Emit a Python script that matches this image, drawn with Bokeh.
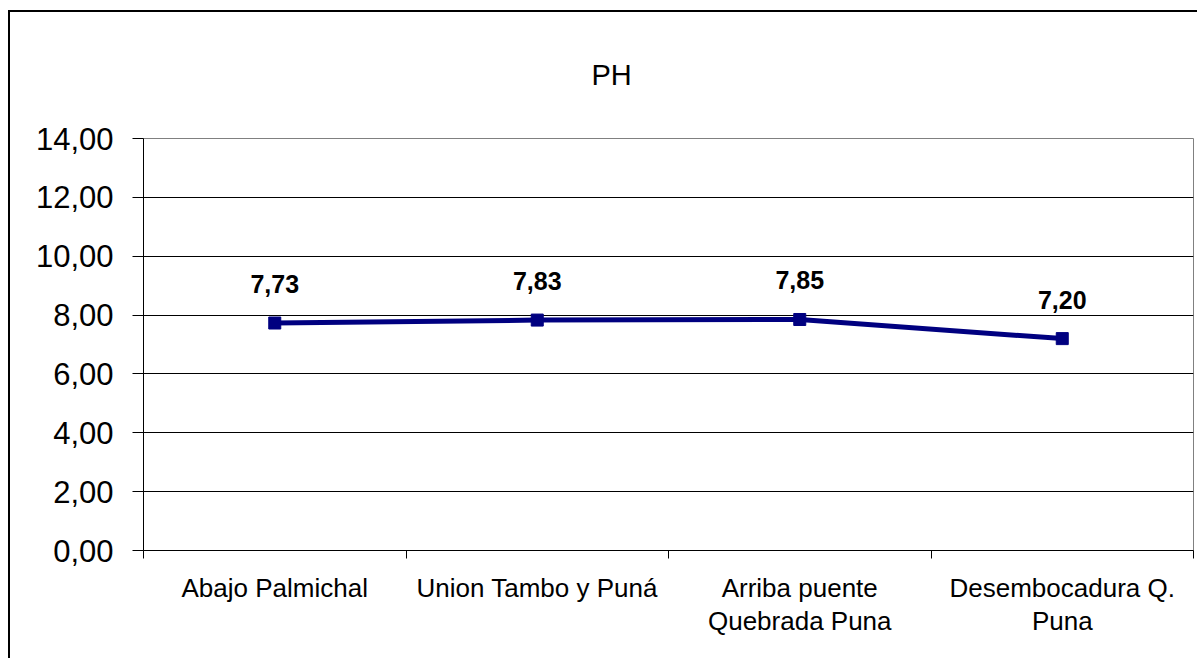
from bokeh.plotting import figure
from bokeh.models import ColumnDataSource, FixedTicker, LabelSet, Range1d
from bokeh.core.properties import value
from bokeh.embed import file_html
from bokeh.resources import INLINE

categories = ["Abajo Palmichal", "Union Tambo y Puná", "Arriba puente\nQuebrada Puna", "Desembocadura Q.\nPuna"]
ph_values = [7.73, 7.83, 7.85, 7.20]
y_ticks = [0, 2, 4, 6, 8, 10, 12, 14]
y_tick_labels = ["0,00", "2,00", "4,00", "6,00", "8,00", "10,00", "12,00", "14,00"]
title_text = "PH"

FONT = "Liberation Sans"
W, H = 1189, 648
BL, BR, BT, BB = 133, 6, 125, 110

xs = [i + 0.5 for i in range(len(categories))]
src = ColumnDataSource(dict(
    x=xs,
    y=ph_values,
    lbl=[f"{v:.2f}".replace(".", ",") for v in ph_values],
))

p = figure(width=W, height=H, output_backend="svg", toolbar_location=None,
           x_range=Range1d(0, len(categories)), y_range=Range1d(y_ticks[0], y_ticks[-1]),
           min_border_left=BL, min_border_right=BR, min_border_top=BT, min_border_bottom=BB)
p.styles = {"border-left": "2px solid #000", "border-top": "2px solid #000",
            "margin-top": "10px", "margin-left": "8px"}

p.title.text = title_text
p.title.align = "left"
p.title.offset = 448
p.title.vertical_align = "top"
p.title.standoff = 92
p.title.text_font = FONT
p.title.text_font_size = "29px"
p.title.text_font_style = "normal"
p.title.text_color = "#000000"

p.outline_line_color = "#808080"
p.outline_line_width = 1
p.background_fill_color = "white"
p.border_fill_color = "white"

# grids
p.xgrid.visible = False
p.ygrid.ticker = FixedTicker(ticks=y_ticks[1:-1])
p.ygrid.grid_line_color = "#000000"
p.ygrid.grid_line_width = 1

# y axis
yax = p.yaxis[0]
yax.ticker = FixedTicker(ticks=y_ticks)
yax.major_label_overrides = {t: l for t, l in zip(y_ticks, y_tick_labels)}
yax.major_label_text_font = FONT
yax.major_label_text_font_size = "31px"
yax.major_label_text_color = "#000000"
yax.major_tick_out = 11
yax.major_tick_in = 0
yax.minor_tick_out = 0
yax.minor_tick_in = 0
yax.major_label_standoff = 19
yax.axis_line_color = "#000000"
yax.major_tick_line_color = "#000000"

# x axis: labels at centres, ticks at boundaries
xax = p.xaxis[0]
xax.ticker = FixedTicker(ticks=xs, minor_ticks=list(range(len(categories) + 1)))
xax.major_label_overrides = {x: c for x, c in zip(xs, categories)}
xax.major_label_text_font = FONT
xax.major_label_text_font_size = "26px"
xax.major_label_text_color = "#000000"
xax.major_label_text_line_height = 1.13
xax.major_tick_out = 0
xax.major_tick_in = 0
xax.minor_tick_out = 8
xax.minor_tick_in = 0
xax.minor_tick_line_color = "#000000"
xax.major_label_standoff = 14
xax.axis_line_color = "#000000"

p.line("x", "y", source=src, line_color="#000080", line_width=5)
p.scatter("x", "y", source=src, marker="square", size=12, fill_color="#000080", line_color="#000080")

labels = LabelSet(x="x", y="y", text="lbl", source=src, text_align="center",
                  text_baseline="alphabetic", y_offset=30, text_font=value(FONT),
                  text_font_size="25px", text_font_style="bold", text_color="#000000")
p.add_layout(labels)

open("out.html", "w").write(file_html(p, INLINE))
